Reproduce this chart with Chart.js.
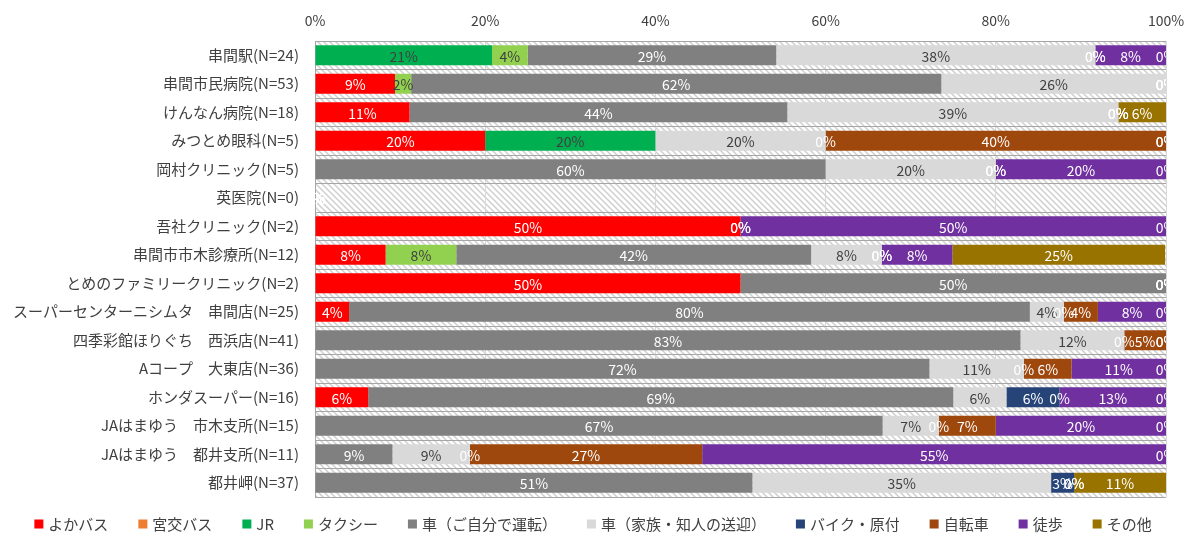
<!DOCTYPE html>
<html><head><meta charset="utf-8">
<script src="https://cdn.jsdelivr.net/npm/chart.js@4.4.1/dist/chart.umd.min.js"></script>
<style>html,body{margin:0;padding:0;background:#fff;}#wrap{width:1192px;height:534px;}</style>
</head><body><div id="wrap"><canvas id="c" width="1192" height="534"></canvas></div>
<script>
const categories = ['串間駅(N=24)','串間市民病院(N=53)','けんなん病院(N=18)','みつとめ眼科(N=5)','岡村クリニック(N=5)','英医院(N=0)','吾社クリニック(N=2)','串間市市木診療所(N=12)','とめのファミリークリニック(N=2)','スーパーセンターニシムタ　串間店(N=25)','四季彩館ほりぐち　西浜店(N=41)','Aコープ　大東店(N=36)','ホンダスーパー(N=16)','JAはまゆう　市木支所(N=15)','JAはまゆう　都井支所(N=11)','都井岬(N=37)'];
const seriesNames = ['よかバス','宮交バス','JR','タクシー','車（ご自分で運転）','車（家族・知人の送迎）','バイク・原付','自転車','徒歩','その他'];
const yokaBus   = [0, 9.4, 11.1, 20, 0, 0, 50, 8.3, 50, 4, 0, 0, 6.25, 0, 0, 0];
const miyakoBus = [0, 0, 0, 0, 0, 0, 0, 0, 0, 0, 0, 0, 0, 0, 0, 0];
const jr        = [20.8, 0, 0, 20, 0, 0, 0, 0, 0, 0, 0, 0, 0, 0, 0, 0];
const taxi      = [4.2, 1.9, 0, 0, 0, 0, 0, 8.3, 0, 0, 0, 0, 0, 0, 0, 0];
const carSelf   = [29.2, 62.3, 44.4, 0, 60, 0, 0, 41.7, 50, 80, 82.9, 72.2, 68.75, 66.7, 9.1, 51.4];
const carFamily = [37.5, 26.4, 38.9, 20, 20, 0, 0, 8.3, 0, 4, 12.2, 11.1, 6.25, 6.6, 9.1, 35.1];
const bike      = [0, 0, 0, 0, 0, 0, 0, 0, 0, 0, 0, 0, 6.25, 0, 0, 2.7];
const bicycle   = [0, 0, 0, 40, 0, 0, 0, 0, 0, 4, 4.9, 5.6, 0, 6.7, 27.3, 0];
const walk      = [8.3, 0, 0, 0, 20, 0, 50, 8.3, 0, 8, 0, 11.1, 12.5, 20, 54.5, 0];
const other     = [0, 0, 5.6, 0, 0, 0, 0, 25, 0, 0, 0, 0, 0, 0, 0, 10.8];
const xTicks = [0, 20, 40, 60, 80, 100];

const seriesData = [yokaBus, miyakoBus, jr, taxi, carSelf, carFamily, bike, bicycle, walk, other];
const colors = ['#FF0000','#ED7D31','#00B050','#92D050','#808080','#D9D9D9','#264478','#9E480E','#7030A0','#997300'];
const labelColors = ['#FFFFFF','#FFFFFF','#404040','#404040','#FFFFFF','#404040','#FFFFFF','#FFFFFF','#FFFFFF','#FFFFFF'];
const showZero = [false,false,false,false,false,false,true,true,true,true];
const FONT = "'Noto Sans CJK JP', 'Noto Sans', sans-serif";

// hatch pattern
const pc = document.createElement('canvas');
pc.width = 6; pc.height = 6;
const pctx = pc.getContext('2d');
pctx.fillStyle = '#FFFFFF'; pctx.fillRect(0,0,6,6);
pctx.strokeStyle = '#CFCFCF'; pctx.lineWidth = 1.5;
pctx.beginPath();
pctx.moveTo(0,0); pctx.lineTo(6,6);
pctx.moveTo(-1,5); pctx.lineTo(1,7);
pctx.moveTo(5,-1); pctx.lineTo(7,1);
pctx.stroke();

const hatchPlugin = {
  id: 'hatch',
  beforeDraw(chart) {
    const {ctx, chartArea: a} = chart;
    ctx.save();
    ctx.fillStyle = '#FFFFFF';
    ctx.fillRect(0, 0, chart.width, chart.height);
    ctx.fillStyle = ctx.createPattern(pc, 'repeat');
    ctx.fillRect(a.left, a.top, a.right - a.left, a.bottom - a.top);
    ctx.restore();
  }
};

const labelPlugin = {
  id: 'segLabels',
  afterDatasetsDraw(chart) {
    const {ctx, chartArea: a} = chart;
    ctx.save();
    ctx.beginPath();
    ctx.rect(a.left, a.top, a.right - a.left, a.bottom - a.top);
    ctx.clip();
    ctx.font = '14px ' + FONT;
    ctx.textAlign = 'center';
    ctx.textBaseline = 'middle';
    chart.data.datasets.forEach((ds, i) => {
      const meta = chart.getDatasetMeta(i);
      meta.data.forEach((bar, j) => {
        const v = ds.data[j];
        if (v === 0 && !showZero[i]) return;
        const p = bar.getProps(['x', 'base', 'y'], true);
        ctx.fillStyle = labelColors[i];
        ctx.fillText(Math.round(v) + '%', (p.x + p.base) / 2, p.y + 1);
      });
    });
    ctx.restore();
  }
};

const legendPlugin = {
  id: 'customLegend',
  afterDraw(chart) {
    const ctx = chart.ctx;
    ctx.save();
    ctx.font = '15px ' + FONT;
    ctx.textBaseline = 'middle';
    ctx.textAlign = 'left';
    const box = 9, gap = 5, sep = 30;
    const widths = seriesNames.map(n => box + gap + ctx.measureText(n).width);
    const total = widths.reduce((s, w) => s + w, 0) + sep * (seriesNames.length - 1);
    let x = (chart.width - total) / 2 - 3;
    const y = 524;
    seriesNames.forEach((n, i) => {
      ctx.fillStyle = colors[i];
      ctx.fillRect(x, y - box / 2, box, box);
      ctx.fillStyle = '#404040';
      ctx.fillText(n, x + box + gap, y);
      x += widths[i] + sep;
    });
    ctx.restore();
  }
};

new Chart(document.getElementById('c'), {
  type: 'bar',
  data: {
    labels: categories,
    datasets: seriesData.map((d, i) => ({
      label: seriesNames[i],
      data: d,
      backgroundColor: colors[i],
      borderWidth: 0,
      barPercentage: 0.7,
      categoryPercentage: 1.0
    }))
  },
  options: {
    indexAxis: 'y',
    responsive: false,
    devicePixelRatio: 1,
    animation: false,
    layout: { padding: { left: 0, right: 26, top: 0, bottom: 37 } },
    plugins: { legend: { display: false }, tooltip: { enabled: false } },
    scales: {
      x: {
        position: 'top',
        stacked: true,
        min: 0, max: 100,
        afterBuildTicks(s) { s.ticks = xTicks.map(v => ({ value: v })); },
        afterFit(s) { s.height = 41; s.paddingLeft = 0; s.paddingRight = 0; },
        ticks: { callback: v => v + '%', color: '#404040', font: { size: 14, family: FONT }, padding: 12, maxRotation: 0 },
        grid: { color: '#D9D9D9', drawTicks: false },
        border: { display: false }
      },
      y: {
        stacked: true,
        afterFit(s) { s.width = 315; },
        ticks: { color: '#404040', font: { size: 15, family: FONT }, padding: 16, autoSkip: false },
        grid: { offset: true, color: '#A6A6A6', drawTicks: false },
        border: { display: true, color: '#A6A6A6' }
      }
    }
  },
  plugins: [hatchPlugin, labelPlugin, legendPlugin]
});
</script></body></html>
